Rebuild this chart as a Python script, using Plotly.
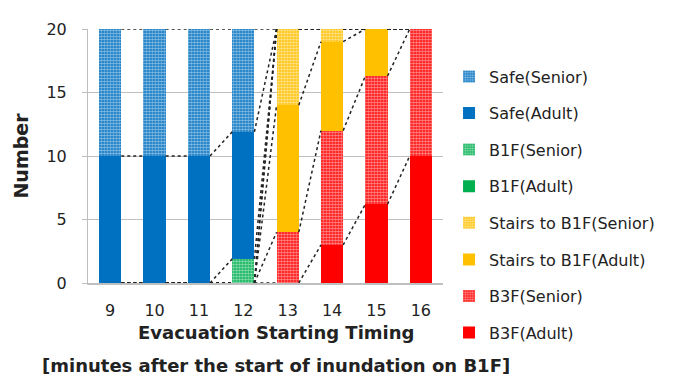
import plotly.graph_objects as go

categories = [9, 10, 11, 12, 13, 14, 15, 16]
tick_labels = ["9", "10", "11", "12", "13", "14", "15", "16"]

# stack order bottom -> top
b3f_adult = [0, 0, 0, 0, 0, 3, 6.2, 10]
b3f_senior = [0, 0, 0, 0, 4, 9, 10.1, 10]
stairs_adult = [0, 0, 0, 0, 10, 7, 3.7, 0]
stairs_senior = [0, 0, 0, 0, 6, 1, 0, 0]
b1f_adult = [0, 0, 0, 0, 0, 0, 0, 0]
b1f_senior = [0, 0, 0, 1.9, 0, 0, 0, 0]
safe_adult = [10, 10, 10, 10, 0, 0, 0, 0]
safe_senior = [10, 10, 10, 8.1, 0, 0, 0, 0]

series = [
    ("B3F(Adult)", b3f_adult, "#FF0000", False),
    ("B3F(Senior)", b3f_senior, "#FF0000", True),
    ("Stairs to B1F(Adult)", stairs_adult, "#FFC000", False),
    ("Stairs to B1F(Senior)", stairs_senior, "#FFC000", True),
    ("B1F(Adult)", b1f_adult, "#00B050", False),
    ("B1F(Senior)", b1f_senior, "#00B050", True),
    ("Safe(Adult)", safe_adult, "#0070C0", False),
    ("Safe(Senior)", safe_senior, "#0070C0", True),
]

FONT = "DejaVu Sans"
BAR_W = 0.5

fig = go.Figure()
n = len(series)
for i, (name, vals, color, senior) in enumerate(series):
    marker = dict(color=color, line=dict(width=0))
    if senior:
        marker["pattern"] = dict(shape=".", size=3, solidity=0.65,
                                 fgcolor="white", fillmode="overlay")
    fig.add_trace(go.Bar(x=categories, y=vals, name=name, width=BAR_W,
                         marker=marker, legendgroup=name,
                         legendrank=n - i))

# series lines (connect tops of each series between adjacent bars)
cum = [0.0] * len(categories)
for name, vals, color, senior in series:
    cum = [c + v for c, v in zip(cum, vals)]
    xs, ys = [], []
    for j in range(len(categories) - 1):
        xs += [categories[j] + BAR_W / 2, categories[j + 1] - BAR_W / 2, None]
        ys += [cum[j], cum[j + 1], None]
    fig.add_trace(go.Scatter(x=xs, y=ys, mode="lines", showlegend=False,
                             hoverinfo="skip",
                             line=dict(color="#222222", width=1.5, dash="dot")))

fig.update_layout(
    width=667, height=368,
    barmode="stack",
    plot_bgcolor="white", paper_bgcolor="white",
    margin=dict(l=80, r=232, t=13, b=93),
    font=dict(family=FONT, color="#222222", size=14),
    legend=dict(x=1.017, y=0.88, xanchor="left", yanchor="top",
                traceorder="grouped", tracegroupgap=12.8,
                font=dict(size=16, family=FONT, color="#222222"),
                itemwidth=30, maxheight=360),
    xaxis=dict(range=[8.5, 16.5], tickmode="array", tickvals=categories,
               ticktext=tick_labels, showgrid=False, zeroline=False,
               showline=True, linecolor="#BFBFBF", linewidth=2,
               ticks="", ticklabelstandoff=12,
               tickfont=dict(size=16)),
    yaxis=dict(range=[0, 20], dtick=5, showgrid=True, gridcolor="#BFBFBF",
               gridwidth=1, zeroline=False, showline=True,
               linecolor="#BFBFBF", linewidth=1, ticks="outside", ticklen=5,
               tickcolor="#BFBFBF", ticklabelstandoff=12,
               tickfont=dict(size=16),
               title=dict(text="<b>Number</b>", font=dict(size=19), standoff=12)),
    annotations=[
        dict(text="<b>Evacuation Starting Timing</b>", xref="paper", yref="paper",
             x=0.53, y=-0.195, xanchor="center", yanchor="middle",
             showarrow=False, font=dict(size=18)),
        dict(text="<b>[minutes after the start of inundation on B1F]</b>",
             xref="paper", yref="paper", x=0.53, y=-0.325, xanchor="center",
             yanchor="middle", showarrow=False, font=dict(size=18)),
    ],
)

fig.write_html("out.html")
